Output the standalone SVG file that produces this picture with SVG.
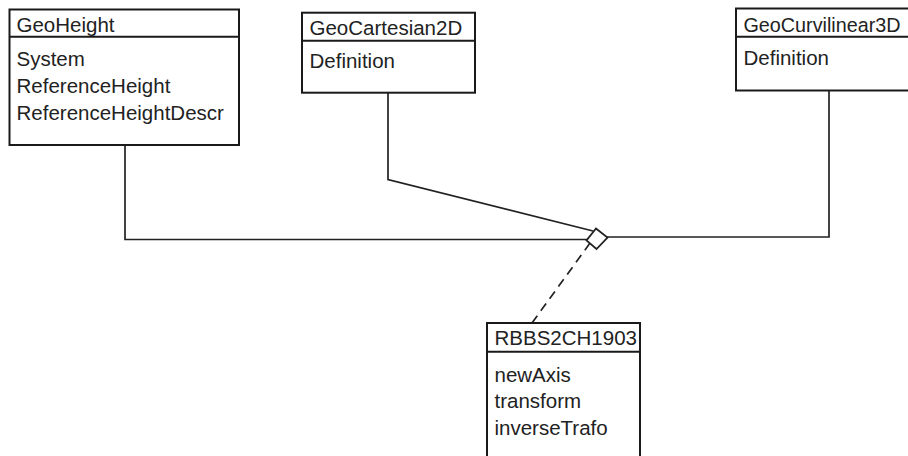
<svg xmlns="http://www.w3.org/2000/svg" width="908" height="456" viewBox="0 0 908 456">
<style>
.box{fill:#fff;stroke:#1a1a1a;stroke-width:2}
.div{stroke:#1a1a1a;stroke-width:2}
.t{font-family:"Liberation Sans",Arial,sans-serif;font-size:20.5px;fill:#222}
.c{fill:none;stroke:#222;stroke-width:1.7}
.d{fill:none;stroke:#222;stroke-width:1.7;stroke-dasharray:9,6}
</style>
<rect width="908" height="456" fill="#fff"/>
<g id="connectors">
<polyline class="c" points="125,145 125,239.5 587,239.5"/>
<polyline class="c" points="388,92.7 388,179.5 593,231"/>
<polyline class="c" points="829,90.7 829,237 607,237"/>
<line class="d" x1="532" y1="323" x2="590" y2="243"/>
<polygon points="596,228.5 607.5,237.5 596.5,249 586.5,240.5" fill="#fff" stroke="#222" stroke-width="1.8"/>
</g>
<g id="GeoHeight">
<rect class="box" x="9.5" y="9.5" width="229.5" height="135.5"/>
<line class="div" x1="9.5" y1="36.7" x2="239" y2="36.7"/>
<text class="t" x="16.5" y="31.5">GeoHeight</text>
<text class="t" x="16.5" y="66">System</text>
<text class="t" x="16.5" y="93">ReferenceHeight</text>
<text class="t" x="16.5" y="120">ReferenceHeightDescr</text>
</g>
<g id="GeoCartesian2D">
<rect class="box" x="302" y="12.7" width="173" height="80"/>
<line class="div" x1="302" y1="40.7" x2="475" y2="40.7"/>
<text class="t" x="309.5" y="35">GeoCartesian2D</text>
<text class="t" x="309.5" y="68">Definition</text>
</g>
<g id="GeoCurvilinear3D">
<rect class="box" x="736" y="8.5" width="200" height="82"/>
<line class="div" x1="736" y1="36.7" x2="936" y2="36.7"/>
<text class="t" x="743.5" y="31.5" textLength="157" lengthAdjust="spacingAndGlyphs">GeoCurvilinear3D</text>
<text class="t" x="743.5" y="65">Definition</text>
</g>
<g id="RBBS2CH1903">
<rect class="box" x="487" y="323" width="153" height="160"/>
<line class="div" x1="487" y1="351.7" x2="640" y2="351.7"/>
<text class="t" x="494.5" y="345">RBBS2CH1903</text>
<text class="t" x="494.5" y="381.5">newAxis</text>
<text class="t" x="494.5" y="408">transform</text>
<text class="t" x="494.5" y="435">inverseTrafo</text>
</g>
</svg>
